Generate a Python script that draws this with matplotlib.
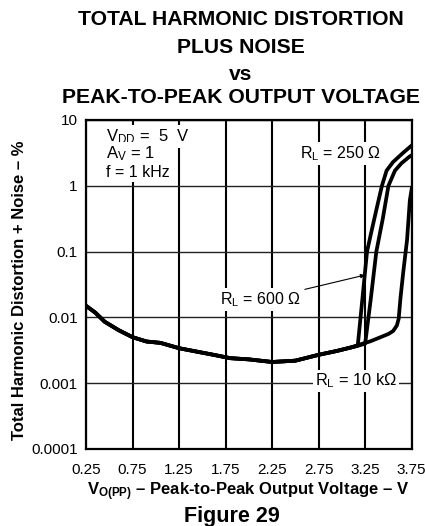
import numpy as np
import matplotlib
matplotlib.use('Agg')
import matplotlib.pyplot as plt

plt.rcParams['font.family'] = ['Liberation Sans', 'DejaVu Sans']
plt.rcParams['mathtext.fontset'] = 'custom'
plt.rcParams['mathtext.rm'] = 'Liberation Sans'
plt.rcParams['mathtext.it'] = 'Liberation Sans'
plt.rcParams['mathtext.bf'] = 'Liberation Sans:bold'
plt.rcParams['mathtext.default'] = 'regular'

# shared low-level part of the THD+N curves (all loads overlap here)
v_base = [0.25, 0.35, 0.45, 0.60, 0.75, 0.90, 1.05, 1.25, 1.45, 1.62,
          1.80, 2.00, 2.25, 2.50, 2.75, 2.95, 3.10]
thd_base = [0.0150, 0.0118, 0.0086, 0.0064, 0.0050, 0.0043, 0.0041, 0.0034,
            0.0030, 0.0027, 0.0024, 0.0023, 0.0021, 0.0022, 0.0027, 0.0031,
            0.0035]

# where each load clips
v_250 = [3.17, 3.22, 3.27, 3.32, 3.37, 3.43, 3.48, 3.55, 3.65, 3.75]
thd_250 = [0.0037, 0.019, 0.10, 0.21, 0.43, 1.0, 1.7, 2.3, 3.1, 4.1]

v_600 = [3.20, 3.25, 3.31, 3.37, 3.44, 3.50, 3.57, 3.64, 3.73, 3.75]
thd_600 = [0.0038, 0.0040, 0.019, 0.10, 0.32, 1.0, 1.7, 2.2, 2.8, 2.9]

v_10k = [3.20, 3.30, 3.40, 3.50, 3.55, 3.59, 3.61, 3.63, 3.66, 3.70, 3.73,
         3.75]
thd_10k = [0.0039, 0.0043, 0.0049, 0.0056, 0.0062, 0.0075, 0.0095, 0.020,
           0.050, 0.15, 0.60, 0.90]

x_ticks = [0.25, 0.75, 1.25, 1.75, 2.25, 2.75, 3.25, 3.75]
y_ticks = [0.0001, 0.001, 0.01, 0.1, 1, 10]
y_tick_labels = ['0.0001', '0.001', '0.01', '0.1', '1', '10']


def main():
    fig = plt.figure(figsize=(4.25, 5.26), dpi=100)
    ax = fig.add_axes([0.2024, 0.1464, 0.7663, 0.6255])

    for vt, tt in [(v_250, thd_250), (v_600, thd_600), (v_10k, thd_10k)]:
        ax.plot(v_base + vt, thd_base + tt, color='black', lw=2.7,
                solid_joinstyle='round', zorder=5)

    ax.set_yscale('log')
    ax.set_xlim(0.25, 3.75)
    ax.set_ylim(0.0001, 10)
    ax.set_xticks(x_ticks)
    ax.set_xticklabels(['{:.2f}'.format(v) for v in x_ticks])
    ax.set_yticks(y_ticks)
    ax.set_yticklabels(y_tick_labels)
    ax.yaxis.set_minor_locator(matplotlib.ticker.NullLocator())
    ax.tick_params(axis='both', length=0, labelsize=11)
    ax.tick_params(axis='x', pad=10)
    ax.tick_params(axis='y', pad=6)

    ax.set_axisbelow(True)
    ax.xaxis.grid(True, color='black', lw=1.5)
    ax.yaxis.grid(True, color='#222222', lw=1.0)
    for s in ax.spines.values():
        s.set_linewidth(1.6)

    # conditions and load labels
    box = dict(facecolor='white', edgecolor='none', pad=1.5)
    ax.text(0.46, 5.6, r'V$_{DD}$ =  5  V', fontsize=12, va='center',
            ha='left', bbox=box)
    ax.text(0.46, 3.1, r'A$_{V}$ = 1', fontsize=12, va='center',
            ha='left', bbox=box)
    ax.text(0.46, 1.6, 'f = 1 kHz', fontsize=11.5, va='center', ha='left',
            bbox=box)
    ax.text(2.99, 3.1, r'R$_{L}$ = 250 Ω', fontsize=11.5, va='center',
            ha='center', bbox=box)
    ax.text(3.15, 0.00108, r'R$_{L}$ = 10 kΩ', fontsize=11.8, va='center',
            ha='center', bbox=box)
    ax.annotate(r'R$_{L}$ = 600 Ω', xy=(3.248, 0.044), xytext=(2.13, 0.0185),
                fontsize=11.5, va='center', ha='center', bbox=box,
                arrowprops=dict(arrowstyle='-|>', lw=0.8, color='black',
                                mutation_scale=6, shrinkA=1, shrinkB=0))

    # titles
    fig.text(0.567, 0.962, 'TOTAL HARMONIC DISTORTION', fontsize=15.2,
             fontweight='bold', ha='center', va='center')
    fig.text(0.567, 0.9106, 'PLUS NOISE', fontsize=15.2, fontweight='bold',
             ha='center', va='center')
    fig.text(0.567, 0.858, 'vs', fontsize=15.2, fontweight='bold',
             ha='center', va='center')
    fig.text(0.567, 0.8137, 'PEAK-TO-PEAK OUTPUT VOLTAGE', fontsize=15.2,
             fontweight='bold', ha='center', va='center')

    fig.text(0.047, 0.4487, 'Total Harmonic Distortion + Noise – %',
             fontsize=12, fontweight='bold', rotation=90, ha='center',
             va='center')
    fig.text(0.584, 0.065, r'V$_{O(PP)}$ – Peak-to-Peak Output Voltage – V',
             fontsize=12, fontweight='bold', ha='center', va='center')
    fig.text(0.546, 0.0177, 'Figure 29', fontsize=15.5, fontweight='bold',
             ha='center', va='center')

    fig.savefig('out.png', dpi=100)


if __name__ == "__main__":
    main()
